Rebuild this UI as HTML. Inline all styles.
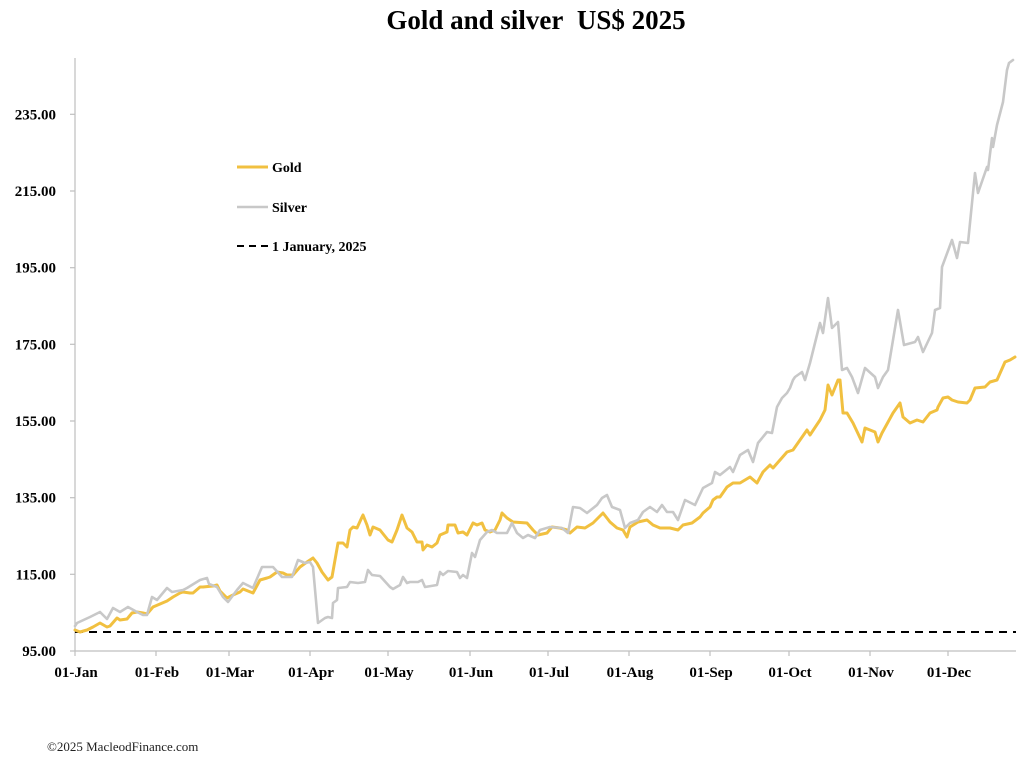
<!DOCTYPE html>
<html>
<head>
<meta charset="utf-8">
<style>
html,body{margin:0;padding:0;background:#fff;}
body{width:1024px;height:757px;overflow:hidden;}
svg{display:block;}
</style>
</head>
<body>
<svg width="1024" height="757" viewBox="0 0 1024 757" xmlns="http://www.w3.org/2000/svg">
<rect width="1024" height="757" fill="#fff"/>
<text x="536" y="29" text-anchor="middle" font-family="Liberation Serif, serif" font-weight="bold" font-size="27" fill="#000">Gold and silver&#160; US$ 2025</text>

<!-- axes -->
<line x1="75" y1="58" x2="75" y2="651" stroke="#bfbfbf" stroke-width="1.2"/>
<line x1="75" y1="651" x2="1016" y2="651" stroke="#bfbfbf" stroke-width="1.2"/>
<g stroke="#bfbfbf" stroke-width="1.2">
<line x1="70" y1="651" x2="75" y2="651"/>
<line x1="70" y1="574.3" x2="75" y2="574.3"/>
<line x1="70" y1="497.7" x2="75" y2="497.7"/>
<line x1="70" y1="421" x2="75" y2="421"/>
<line x1="70" y1="344.3" x2="75" y2="344.3"/>
<line x1="70" y1="267.7" x2="75" y2="267.7"/>
<line x1="70" y1="191" x2="75" y2="191"/>
<line x1="70" y1="114.3" x2="75" y2="114.3"/>
<line x1="75" y1="651" x2="75" y2="656"/>
<line x1="156" y1="651" x2="156" y2="656"/>
<line x1="229" y1="651" x2="229" y2="656"/>
<line x1="310" y1="651" x2="310" y2="656"/>
<line x1="388" y1="651" x2="388" y2="656"/>
<line x1="470" y1="651" x2="470" y2="656"/>
<line x1="548" y1="651" x2="548" y2="656"/>
<line x1="629" y1="651" x2="629" y2="656"/>
<line x1="710" y1="651" x2="710" y2="656"/>
<line x1="789" y1="651" x2="789" y2="656"/>
<line x1="870" y1="651" x2="870" y2="656"/>
<line x1="948" y1="651" x2="948" y2="656"/>
</g>

<g font-family="Liberation Serif, serif" font-weight="bold" font-size="15" fill="#000" text-anchor="end">
<text x="56" y="656">95.00</text>
<text x="56" y="579.3">115.00</text>
<text x="56" y="502.7">135.00</text>
<text x="56" y="426">155.00</text>
<text x="56" y="349.3">175.00</text>
<text x="56" y="272.7">195.00</text>
<text x="56" y="196">215.00</text>
<text x="56" y="119.3">235.00</text>
</g>
<g font-family="Liberation Serif, serif" font-weight="bold" font-size="15" fill="#000" text-anchor="middle">
<text x="76" y="677">01-Jan</text>
<text x="157" y="677">01-Feb</text>
<text x="230" y="677">01-Mar</text>
<text x="311" y="677">01-Apr</text>
<text x="389" y="677">01-May</text>
<text x="471" y="677">01-Jun</text>
<text x="549" y="677">01-Jul</text>
<text x="630" y="677">01-Aug</text>
<text x="711" y="677">01-Sep</text>
<text x="790" y="677">01-Oct</text>
<text x="871" y="677">01-Nov</text>
<text x="949" y="677">01-Dec</text>
</g>

<!-- 1 Jan baseline -->
<line x1="75" y1="632" x2="1016" y2="632" stroke="#000" stroke-width="2" stroke-dasharray="8,6"/>

<!-- gold -->
<polyline fill="none" stroke="#F1C040" stroke-width="3" stroke-linejoin="round" stroke-linecap="round" points="75,630 80,632 87,630 93,627 100,623 107,627 110,626 117,618 120,620 127,619 132,613 137,612 143,613 147,614 153,607 160,604 167,601 173,597 180,593 183,592 190,593 193,593 200,587 203,587 213,586 217,585 220,591 227,598 233,595 240,592 243,589 253,593 260,580 267,578 270,577 277,572 283,573 287,575 293,575 300,567 307,562 313,558 317,563 322,572 328,580 332,577 338,543 343,543 347,547 350,530 353,527 357,528 362,517 363,515 367,525 370,535 373,527 380,530 388,540 392,542 397,530 402,515 407,528 412,532 417,542 422,542 423,550 427,545 432,547 437,543 440,535 447,532 448,525 455,525 458,533 463,532 467,535 473,523 477,525 482,523 485,530 490,532 495,530 500,520 502,513 507,518 513,522 527,523 533,530 538,535 547,533 552,527 560,528 567,530 570,533 577,527 585,528 593,523 603,513 610,522 617,528 623,530 627,537 630,527 638,522 647,520 653,525 660,528 670,528 678,530 683,525 692,523 700,517 703,513 710,507 713,500 717,497 720,497 727,487 733,483 740,483 750,477 757,483 763,472 770,465 773,468 787,452 793,450 807,430 810,435 820,420 825,410 828,385 832,395 838,380 840,380 843,413 847,413 853,423 862,442 865,428 875,432 878,442 882,433 893,413 900,403 903,417 910,423 917,420 923,422 930,413 937,410 938,407 943,398 948,397 952,400 958,402 967,403 970,400 975,388 985,387 990,382 997,380 1005,362 1010,360 1015,357"/>

<!-- silver -->
<polyline fill="none" stroke="#C8C8C8" stroke-width="2.6" stroke-linejoin="round" stroke-linecap="round" points="75,626 77,623 90,617 100,612 107,619 113,608 120,612 128,607 137,612 143,615 147,615 152,597 157,600 167,588 172,592 183,590 187,588 200,580 207,578 209,584 217,587 223,597 228,602 237,590 243,583 253,588 262,567 273,567 282,577 292,577 298,560 305,563 310,562 313,567 318,623 325,618 328,617 332,618 333,603 337,600 338,588 347,587 350,582 358,583 365,582 368,570 372,575 380,576 390,587 393,589 400,585 403,577 407,583 410,582 418,582 422,580 425,587 437,585 440,572 443,575 448,571 457,572 460,578 463,575 467,578 472,553 475,557 480,540 487,532 492,530 497,533 507,533 512,523 517,533 523,538 528,535 535,538 540,530 550,527 562,528 568,533 573,507 580,508 587,513 597,505 602,498 607,495 612,507 620,510 625,528 630,523 638,520 643,512 650,507 657,512 662,505 667,512 673,512 678,520 685,500 695,505 703,488 712,483 715,472 720,475 730,467 733,472 740,455 748,450 753,462 758,443 767,432 772,433 777,407 782,398 787,393 790,388 793,380 795,377 802,372 805,380 810,363 820,323 823,333 828,298 832,328 838,322 842,370 847,368 852,377 858,393 865,368 875,377 878,388 883,377 888,370 898,310 904,345 915,342 918,337 923,352 932,333 935,310 940,308 942,267 952,240 957,258 960,242 968,243 975,173 978,193 987,167 988,170 992,138 993,147 997,125 1003,102 1007,70 1009,63 1013,60"/>

<!-- legend -->
<line x1="237" y1="167" x2="268" y2="167" stroke="#F1C040" stroke-width="3"/>
<line x1="237" y1="207" x2="268" y2="207" stroke="#C8C8C8" stroke-width="2.6"/>
<line x1="237" y1="246" x2="268" y2="246" stroke="#000" stroke-width="2" stroke-dasharray="7,5"/>
<g font-family="Liberation Serif, serif" font-weight="bold" font-size="14" fill="#000">
<text x="272" y="172">Gold</text>
<text x="272" y="212">Silver</text>
<text x="272" y="251">1 January, 2025</text>
</g>

<text x="47" y="751" font-family="Liberation Serif, serif" font-size="13" fill="#222">©2025 MacleodFinance.com</text>
</svg>
</body>
</html>
